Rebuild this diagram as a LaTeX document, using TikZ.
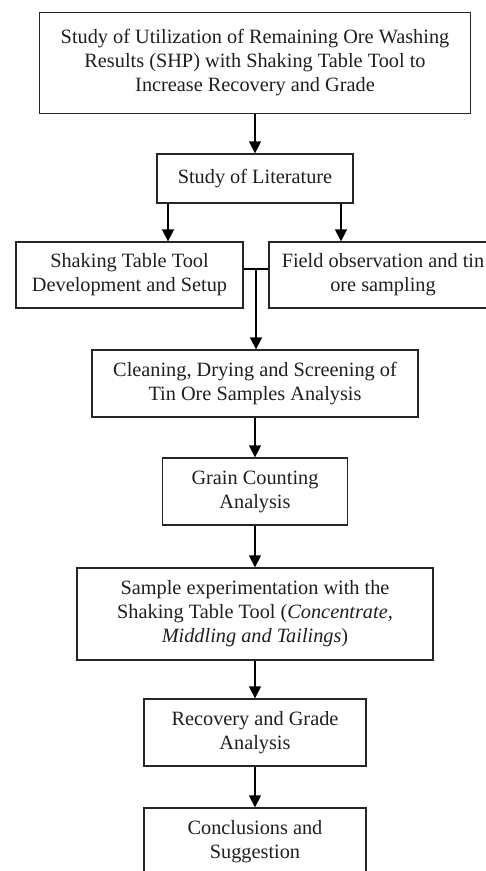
\documentclass[tikz,border=0pt]{standalone}
\usepackage{fontspec}
\setmainfont{Liberation Serif}
\usetikzlibrary{arrows.meta,calc}
\begin{document}
\begin{tikzpicture}[x=1pt,y=-1pt,
  box/.style={draw=black!85,line width=1.3pt,align=center,inner sep=0pt,
    font=\fontsize{20.3}{24}\selectfont,text=black!88},
  arr/.style={draw=black,line width=1.4pt,-{Triangle[width=12pt,length=12pt]}},
  ln/.style={draw=black,line width=1.4pt}]
\clip (0,0) rectangle (486,871);
\fill[white] (0,0) rectangle (486,871);
\node[box,minimum width=431pt,minimum height=101pt] (top) at (255,63)
  {Study of Utilization of Remaining Ore Washing\\Results (SHP) with Shaking Table Tool to\\Increase Recovery and Grade};
\node[box,minimum width=196pt,minimum height=49pt] (lit) at (255,178.5) {Study of Literature};
\node[box,minimum width=227pt,minimum height=66pt] (shk) at (129.5,275)
  {Shaking Table Tool\\Development and Setup};
\node[box,minimum width=228pt,minimum height=66pt] (fld) at (383,275)
  {Field observation and tin\\ore sampling};
\node[box,minimum width=326pt,minimum height=67pt] (cln) at (255,383.5)
  {Cleaning, Drying and Screening of\\Tin Ore Samples Analysis};
\node[box,minimum width=185pt,minimum height=67pt] (grn) at (255,491.5)
  {Grain Counting\\Analysis};
\node[box,minimum width=356pt,minimum height=92pt] (smp) at (255,614)
  {Sample experimentation with the\\Shaking Table Tool (\textit{Concentrate,}\\\textit{Middling and Tailings})};
\node[box,minimum width=222pt,minimum height=67pt] (rec) at (255,732.5)
  {Recovery and Grade\\Analysis};
\node[box,minimum width=222pt,minimum height=68pt] (con) at (255,842)
  {Conclusions and\\Suggestion};
\draw[arr] (top.south) -- (lit.north);
\draw[arr] ([xshift=-87pt]lit.south) -- ([xshift=-87pt]lit.south |- shk.north);
\draw[arr] ([xshift=86pt]lit.south) -- ([xshift=86pt]lit.south |- fld.north);
\draw[ln] ([yshift=6pt]shk.east) -- ([yshift=6pt]fld.west);
\coordinate (j) at ($([yshift=6pt]shk.east)!0.5!([yshift=6pt]fld.west)$);
\draw[arr] (j) -- (j |- cln.north);
\draw[arr] (cln.south) -- (grn.north);
\draw[arr] (grn.south) -- (smp.north);
\draw[arr] (smp.south) -- (rec.north);
\draw[arr] (rec.south) -- (con.north);
\end{tikzpicture}
\end{document}
